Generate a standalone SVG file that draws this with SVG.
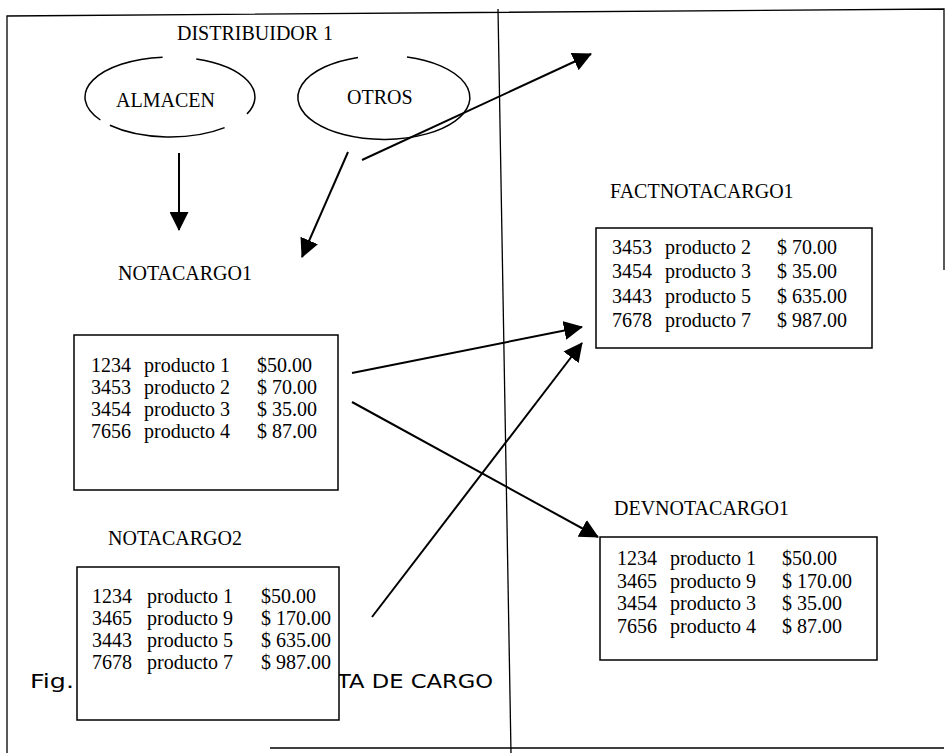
<svg xmlns="http://www.w3.org/2000/svg" width="947" height="753" viewBox="0 0 947 753">
<style>
.t{font-family:"Liberation Serif","Times New Roman",serif;font-size:20px;fill:#000}
.s{font-family:"DejaVu Sans",Verdana,sans-serif;font-size:19px;fill:#000}
.frame{stroke:#000;stroke-width:1.3;fill:none}
.box{fill:#fff;stroke:#000;stroke-width:1.5}
.ell{fill:none;stroke:#000;stroke-width:1.5}
.conn{stroke:#000;stroke-width:2;fill:none;marker-end:url(#ah)}
</style>
<defs>
<marker id="ah" markerUnits="userSpaceOnUse" markerWidth="19" markerHeight="19" refX="18" refY="9.5" orient="auto">
<path d="M0,0 L19,9.5 L0,19 z" fill="#000"/>
</marker>
</defs>
<rect width="947" height="753" fill="#fff"/>
<g id="frame" class="frame">
<path d="M7,753 L7,16 L944,9 L944,270"/>
<path d="M498,9 L511,753"/>
<path d="M270,748 L944,748"/>
</g>
<g id="caption">
<text class="s" x="30" y="688" textLength="44" lengthAdjust="spacingAndGlyphs">Fig.</text>
<text class="s" x="337" y="688" textLength="156" lengthAdjust="spacingAndGlyphs">TA DE CARGO</text>
</g>
<g id="distribuidor">
<text class="t" x="177" y="40">DISTRIBUIDOR 1</text>
</g>
<g id="almacen">
<path class="ell" d="M162.6,57.2 A85,40 0 0 0 100.4,120 M196.3,59 A85,40 0 0 1 247,113.9 M224.6,127.6 A85,40 0 0 1 109.9,125.3"/>
<text class="t" x="116" y="107">ALMACEN</text>
</g>
<g id="otros">
<path class="ell" d="M407,57 A86,42 0 1 1 358,57.4"/>
<text class="t" x="347" y="104">OTROS</text>
</g>
<g id="notacargo1">
<text class="t" x="118" y="280">NOTACARGO1</text>
<rect class="box" x="74" y="335" width="264" height="155"/>
<text class="t" y="372"><tspan x="91">1234</tspan><tspan x="144">producto 1</tspan><tspan x="257">$50.00</tspan></text>
<text class="t" y="394"><tspan x="91">3453</tspan><tspan x="144">producto 2</tspan><tspan x="257">$ 70.00</tspan></text>
<text class="t" y="416"><tspan x="91">3454</tspan><tspan x="144">producto 3</tspan><tspan x="257">$ 35.00</tspan></text>
<text class="t" y="438"><tspan x="91">7656</tspan><tspan x="144">producto 4</tspan><tspan x="257">$ 87.00</tspan></text>
</g>
<g id="notacargo2">
<text class="t" x="108" y="545">NOTACARGO2</text>
<rect class="box" x="77" y="567" width="262" height="153"/>
<text class="t" y="603"><tspan x="92">1234</tspan><tspan x="147">producto 1</tspan><tspan x="261">$50.00</tspan></text>
<text class="t" y="625"><tspan x="92">3465</tspan><tspan x="147">producto 9</tspan><tspan x="261">$ 170.00</tspan></text>
<text class="t" y="647"><tspan x="92">3443</tspan><tspan x="147">producto 5</tspan><tspan x="261">$ 635.00</tspan></text>
<text class="t" y="669"><tspan x="92">7678</tspan><tspan x="147">producto 7</tspan><tspan x="261">$ 987.00</tspan></text>
</g>
<g id="factnotacargo1">
<text class="t" x="610" y="198">FACTNOTACARGO1</text>
<rect class="box" x="596" y="228" width="276" height="120"/>
<text class="t" y="254"><tspan x="612">3453</tspan><tspan x="665">producto 2</tspan><tspan x="777">$ 70.00</tspan></text>
<text class="t" y="278"><tspan x="612">3454</tspan><tspan x="665">producto 3</tspan><tspan x="777">$ 35.00</tspan></text>
<text class="t" y="303"><tspan x="612">3443</tspan><tspan x="665">producto 5</tspan><tspan x="777">$ 635.00</tspan></text>
<text class="t" y="327"><tspan x="612">7678</tspan><tspan x="665">producto 7</tspan><tspan x="777">$ 987.00</tspan></text>
</g>
<g id="devnotacargo1">
<text class="t" x="614" y="515">DEVNOTACARGO1</text>
<rect class="box" x="600" y="537" width="277" height="123"/>
<text class="t" y="565"><tspan x="617">1234</tspan><tspan x="670">producto 1</tspan><tspan x="782">$50.00</tspan></text>
<text class="t" y="588"><tspan x="617">3465</tspan><tspan x="670">producto 9</tspan><tspan x="782">$ 170.00</tspan></text>
<text class="t" y="610"><tspan x="617">3454</tspan><tspan x="670">producto 3</tspan><tspan x="782">$ 35.00</tspan></text>
<text class="t" y="633"><tspan x="617">7656</tspan><tspan x="670">producto 4</tspan><tspan x="782">$ 87.00</tspan></text>
</g>
<g id="connectors">
<line class="conn" x1="179" y1="153" x2="179" y2="230"/>
<line class="conn" x1="348" y1="152" x2="302" y2="257"/>
<line class="conn" x1="362" y1="160" x2="591" y2="54"/>
<line class="conn" x1="352" y1="373" x2="582" y2="327"/>
<line class="conn" x1="352" y1="402" x2="598" y2="537"/>
<line class="conn" x1="372" y1="617" x2="582" y2="343"/>
</g>
</svg>
